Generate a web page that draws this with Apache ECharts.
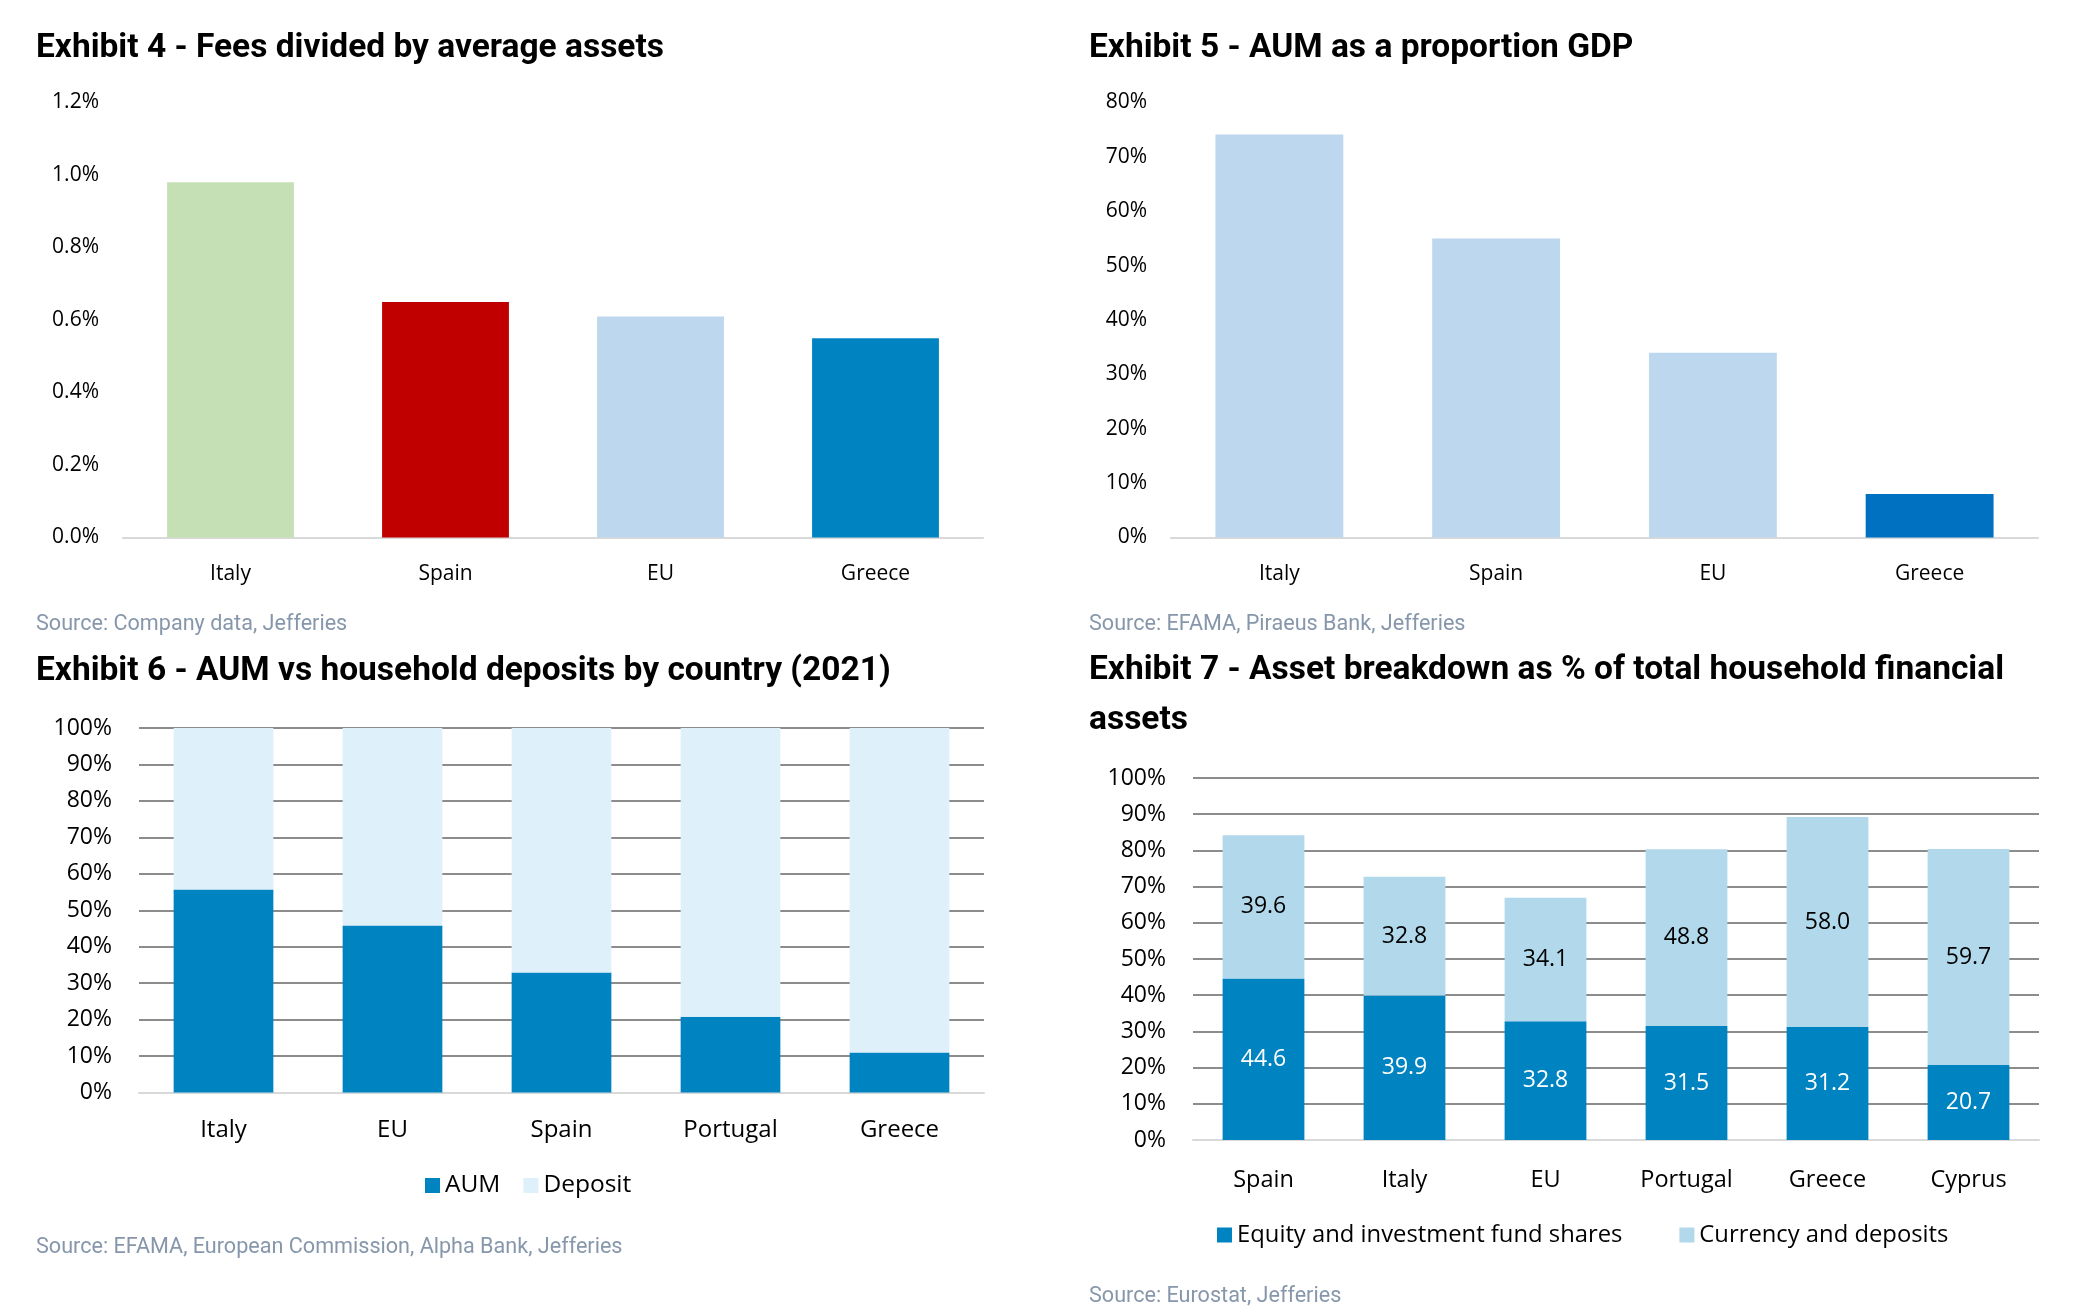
<!DOCTYPE html>
<html><head><meta charset="utf-8">
<script src="https://cdn.jsdelivr.net/npm/echarts@6/dist/echarts.min.js"></script>
<style>html,body{margin:0;padding:0;background:#fff}#c{width:2075px;height:1315px}</style>
</head><body><div id="c"></div>
<script>
// ---- Data ----
const feeCategories = ['Italy', 'Spain', 'EU', 'Greece'];
const feeValues = [0.98, 0.65, 0.61, 0.55];           // % of average assets

const gdpCategories = ['Italy', 'Spain', 'EU', 'Greece'];
const gdpValues = [74.1, 55.0, 34.0, 8.0];            // AUM as % of GDP

const depCategories = ['Italy', 'EU', 'Spain', 'Portugal', 'Greece'];
const aumShare = [55.7, 45.8, 32.9, 20.8, 11.0];
const depositShare = [44.3, 54.2, 67.1, 79.2, 89.0];

const hhCategories = ['Spain', 'Italy', 'EU', 'Portugal', 'Greece', 'Cyprus'];
const equityShares = [44.6, 39.9, 32.8, 31.5, 31.2, 20.7];
const currencyDeposits = [39.6, 32.8, 34.1, 48.8, 58.0, 59.7];

// ---- Styles ----
const feeColors = ['#c5e0b4', '#c00000', '#bdd7ee', '#0083c1'];
const gdpColors = ['#bdd7ee', '#bdd7ee', '#bdd7ee', '#0070c0'];
const AX = 'Open Sans';
const TF = 'Roboto';
const TITLE_SIZE = 33.5;
const GRID_LINE = '#8c8c8c';
const AXIS_LINE = '#d9d9d9';

const chart = echarts.init(document.getElementById('c'));

function titleItem(text, left, top, extra) {
  return Object.assign({
    text, left, top, padding: 0,
    textStyle: { fontFamily: TF, fontWeight: 'bold', fontSize: TITLE_SIZE, color: '#000' }
  }, extra || {});
}
function sourceItem(text, left, top) {
  return {
    text, left, top, padding: 0,
    textStyle: { fontFamily: TF, fontWeight: 'normal', fontSize: 21.6, color: '#8797ab' }
  };
}
function catAxis(gridIndex, data, fontSize, margin) {
  return {
    type: 'category', gridIndex, data,
    axisTick: { show: false },
    axisLine: { lineStyle: { color: AXIS_LINE, width: 2 } },
    axisLabel: { fontFamily: AX, fontSize, color: '#000', margin }
  };
}
function valAxis(gridIndex, min, max, interval, fmt, fontSize, margin, grid, padTop) {
  return {
    type: 'value', gridIndex, min, max, interval,
    axisLine: { show: false }, axisTick: { show: false },
    axisLabel: { fontFamily: AX, fontSize, color: '#000', margin, formatter: fmt, padding: [padTop, 0, 0, 0] },
    splitLine: grid ? { show: true, lineStyle: { color: GRID_LINE, width: 2 } } : { show: false }
  };
}

const option = {
  backgroundColor: '#fff',
  animation: false,
  title: [
    titleItem('Exhibit 4 - Fees divided by average assets', 36, 32),
    titleItem('Exhibit 5 - AUM as a proportion GDP', 1089, 32),
    titleItem('Exhibit 6 - AUM vs household deposits by country (2021)', 36, 655),
    titleItem('Exhibit 7 - Asset breakdown as % of total household financial\nassets', 1089, 645,
      { textStyle: { fontFamily: TF, fontWeight: 'bold', fontSize: TITLE_SIZE, color: '#000', lineHeight: 50.5 } }),
    sourceItem('Source: Company data, Jefferies', 36, 614),
    sourceItem('Source: EFAMA, Piraeus Bank, Jefferies', 1089, 614),
    sourceItem('Source: EFAMA, European Commission, Alpha Bank, Jefferies', 36, 1236.5),
    sourceItem('Source: Eurostat, Jefferies', 1089, 1286)
  ],
  legend: [
    {
      data: ['AUM', 'Deposit'], left: 425, top: 1173, padding: 0,
      itemWidth: 15, itemHeight: 15, itemGap: 23, icon: 'rect',
      textStyle: { fontFamily: AX, fontSize: 24.5, color: '#000' }
    },
    {
      data: ['Equity and investment fund shares', 'Currency and deposits'], left: 1217, top: 1223, padding: 0,
      itemWidth: 15, itemHeight: 15, itemGap: 57, icon: 'rect',
      textStyle: { fontFamily: AX, fontSize: 23.8, color: '#000' }
    }
  ],
  grid: [
    { left: 123, top: 102.5, width: 860, height: 435 },
    { left: 1171, top: 102.5, width: 867, height: 435 },
    { left: 139, top: 728, width: 845, height: 364.5 },
    { left: 1193, top: 778, width: 846, height: 362 }
  ],
  xAxis: [
    catAxis(0, feeCategories, 21, 26),
    catAxis(1, gdpCategories, 21, 26),
    catAxis(2, depCategories, 24, 26),
    catAxis(3, hhCategories, 23.5, 28.5)
  ],
  yAxis: [
    valAxis(0, 0, 1.2, 0.2, v => v.toFixed(1) + '%', 21, 24, false, 9),
    valAxis(1, 0, 80, 10, v => v + '%', 21, 24, false, 9),
    valAxis(2, 0, 100, 10, v => v + '%', 23, 27, true, 5),
    valAxis(3, 0, 100, 10, v => v + '%', 23, 27, true, 5)
  ],
  series: [
    {
      name: 'Fees', type: 'bar', xAxisIndex: 0, yAxisIndex: 0, barWidth: '59%',
      data: feeValues.map((v, i) => ({ value: v, itemStyle: { color: feeColors[i] } }))
    },
    {
      name: 'AUM/GDP', type: 'bar', xAxisIndex: 1, yAxisIndex: 1, barWidth: '59%',
      data: gdpValues.map((v, i) => ({ value: v, itemStyle: { color: gdpColors[i] } }))
    },
    {
      name: 'AUM', type: 'bar', xAxisIndex: 2, yAxisIndex: 2, stack: 'dep', barWidth: '59%',
      itemStyle: { color: '#0083c1' }, data: aumShare
    },
    {
      name: 'Deposit', type: 'bar', xAxisIndex: 2, yAxisIndex: 2, stack: 'dep', barWidth: '59%',
      itemStyle: { color: '#def0f9' }, data: depositShare
    },
    {
      name: 'Equity and investment fund shares', type: 'bar', xAxisIndex: 3, yAxisIndex: 3, stack: 'hh', barWidth: '58%',
      itemStyle: { color: '#0083c1' }, data: equityShares,
      label: { show: true, position: 'inside', color: '#fff', fontFamily: AX, fontSize: 23,
               formatter: p => Number(p.value).toFixed(1) }
    },
    {
      name: 'Currency and deposits', type: 'bar', xAxisIndex: 3, yAxisIndex: 3, stack: 'hh', barWidth: '58%',
      itemStyle: { color: '#b1d9eb' }, data: currencyDeposits,
      label: { show: true, position: 'inside', color: '#000', fontFamily: AX, fontSize: 23,
               formatter: p => Number(p.value).toFixed(1) }
    }
  ]
};
chart.setOption(option);
</script>
</body></html>
